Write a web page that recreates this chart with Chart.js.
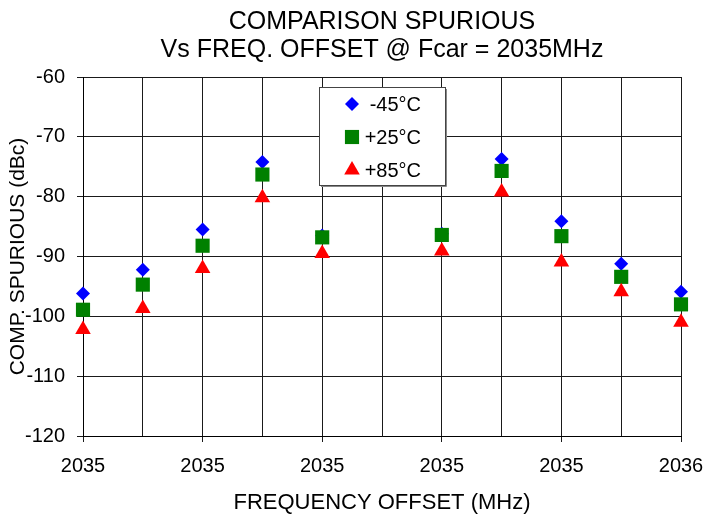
<!DOCTYPE html>
<html lang="en">
<head>
<meta charset="UTF-8" />
<title>Comparison Spurious vs Freq. Offset</title>
<style>
  html, body {
    margin: 0;
    padding: 0;
    background: #fff;
  }
  #wrap {
    width: 705px;
    height: 517px;
  }
</style>
</head>
<body>
<div id="wrap"><canvas id="spurChart" width="705" height="517"></canvas></div>

<script src="https://cdn.jsdelivr.net/npm/chart.js"></script>
<script>
  const xLabels = ['2035', '', '2035', '', '2035', '', '2035', '', '2035', '', '2036'];
  const seriesNames = ['-45°C', '+25°C', '+85°C'];
  const coldVals = [-96.2, -92.2, -85.5, -74.2, -86.5, null, -86.2, -73.7, -84.1, -91.2, -95.9];
  const roomVals = [-98.9, -94.7, -88.2, -76.3, -86.8, null, -86.4, -75.7, -86.6, -93.4, -98.0];
  const hotVals  = [-102.2, -98.7, -92.0, -80.2, -89.5, null, -89.1, -79.2, -90.9, -95.9, -101.0];
  const yTicks = [-120, -110, -100, -90, -80, -70, -60];

  const FONT = "'Liberation Sans', Arial, Helvetica, sans-serif";

  // title drawn over the plot centre, like the original sheet
  const titlePlugin = {
    id: 'twoLineTitle',
    afterDraw(chart) {
      const ctx = chart.ctx;
      const a = chart.chartArea;
      const cx = (a.left + a.right) / 2;
      ctx.save();
      ctx.fillStyle = '#000';
      ctx.font = '25px ' + FONT;
      ctx.textAlign = 'center';
      ctx.textBaseline = 'alphabetic';
      ctx.fillText('COMPARISON SPURIOUS', cx, 29);
      ctx.fillText('Vs FREQ. OFFSET @ Fcar = 2035MHz', cx, 57);
      ctx.restore();
    }
  };

  // boxed legend sitting inside the plot area
  const boxLegend = {
    id: 'boxLegend',
    afterDatasetsDraw(chart) {
      const ctx = chart.ctx;
      const a = chart.chartArea;
      const bx = a.left + 236, by = a.top + 10, bw = 126, bh = 98;
      ctx.save();
      ctx.fillStyle = '#fff';
      ctx.fillRect(bx, by, bw, bh);
      ctx.strokeStyle = '#444';
      ctx.lineWidth = 1;
      ctx.strokeRect(bx + 0.5, by + 0.5, bw, bh);
      // little shade on right and bottom
      ctx.strokeStyle = '#888';
      ctx.beginPath();
      ctx.moveTo(bx + bw + 1.5, by + 2);
      ctx.lineTo(bx + bw + 1.5, by + bh + 1.5);
      ctx.lineTo(bx + 2, by + bh + 1.5);
      ctx.stroke();

      const rowY = [by + 17, by + 50, by + 83];
      const mx = bx + 33;
      chart.data.datasets.forEach((ds, i) => {
        const opts = {
          pointStyle: ds.pointStyle,
          radius: ds.pointRadius,
          rotation: 0,
          borderWidth: 0
        };
        ctx.fillStyle = ds.backgroundColor;
        ctx.strokeStyle = ds.backgroundColor;
        Chart.helpers.drawPoint(ctx, opts, mx, rowY[i]);
        ctx.fillStyle = '#000';
        ctx.font = '20px ' + FONT;
        ctx.textAlign = 'right';
        ctx.textBaseline = 'middle';
        ctx.fillText(ds.label, bx + 102, rowY[i] + 1);
      });
      ctx.restore();
    }
  };

  const ctx = document.getElementById('spurChart').getContext('2d');
  const spurChart = new Chart(ctx, {
    type: 'line',
    data: {
      labels: xLabels,
      datasets: [
        {
          label: seriesNames[0],
          data: coldVals,
          showLine: false,
          pointStyle: 'rectRot',
          pointRadius: 7,
          pointHoverRadius: 7,
          pointBorderWidth: 0,
          backgroundColor: '#0000ff',
          borderColor: '#0000ff',
          order: 3
        },
        {
          label: seriesNames[1],
          data: roomVals,
          showLine: false,
          pointStyle: 'rect',
          pointRadius: 10,
          pointHoverRadius: 10,
          pointBorderWidth: 0,
          backgroundColor: '#008000',
          borderColor: '#008000',
          order: 2
        },
        {
          label: seriesNames[2],
          data: hotVals,
          showLine: false,
          pointStyle: 'triangle',
          pointRadius: 9,
          pointHoverRadius: 9,
          pointBorderWidth: 0,
          backgroundColor: '#ff0000',
          borderColor: '#ff0000',
          order: 1
        }
      ]
    },
    options: {
      responsive: false,
      animation: false,
      events: [],
      layout: {
        padding: { top: 77, right: 24, bottom: 0, left: 0 }
      },
      plugins: {
        legend: { display: false },
        title: { display: false },
        tooltip: { enabled: false }
      },
      scales: {
        x: {
          type: 'category',
          offset: false,
          grid: {
            color: '#1a1a1a',
            lineWidth: 1,
            offset: false,
            drawTicks: true,
            tickLength: 6,
            tickColor: (c) => (c.index % 2 === 0 ? '#1a1a1a' : 'rgba(0,0,0,0)')
          },
          border: { color: '#000', width: 1 },
          ticks: {
            color: '#000',
            font: { family: FONT, size: 20 },
            padding: 12,
            maxRotation: 0,
            autoSkip: false
          },
          title: {
            display: true,
            text: 'FREQUENCY OFFSET (MHz)',
            color: '#000',
            font: { family: FONT, size: 22 },
            padding: { top: 0, bottom: 1 }
          },
          afterFit(scale) {
            scale.height = 81;
            scale.paddingLeft = 0;
            scale.paddingRight = 0;
          }
        },
        y: {
          min: -120,
          max: -60,
          afterBuildTicks(scale) {
            scale.ticks = yTicks.map(v => ({ value: v }));
          },
          grid: {
            color: '#1a1a1a',
            lineWidth: 1,
            tickLength: 6,
            tickColor: '#1a1a1a'
          },
          border: { color: '#000', width: 1 },
          ticks: {
            color: '#000',
            font: { family: FONT, size: 20 },
            padding: 12
          },
          title: {
            display: true,
            text: 'COMP. SPURIOUS (dBc)',
            color: '#000',
            font: { family: FONT, size: 21 },
            padding: { top: 6, bottom: 0 }
          },
          afterFit(scale) {
            scale.width = 83;
            scale.paddingTop = 0;
            scale.paddingBottom = 0;
          }
        }
      }
    },
    plugins: [boxLegend, titlePlugin]
  });
</script>
</body>
</html>
